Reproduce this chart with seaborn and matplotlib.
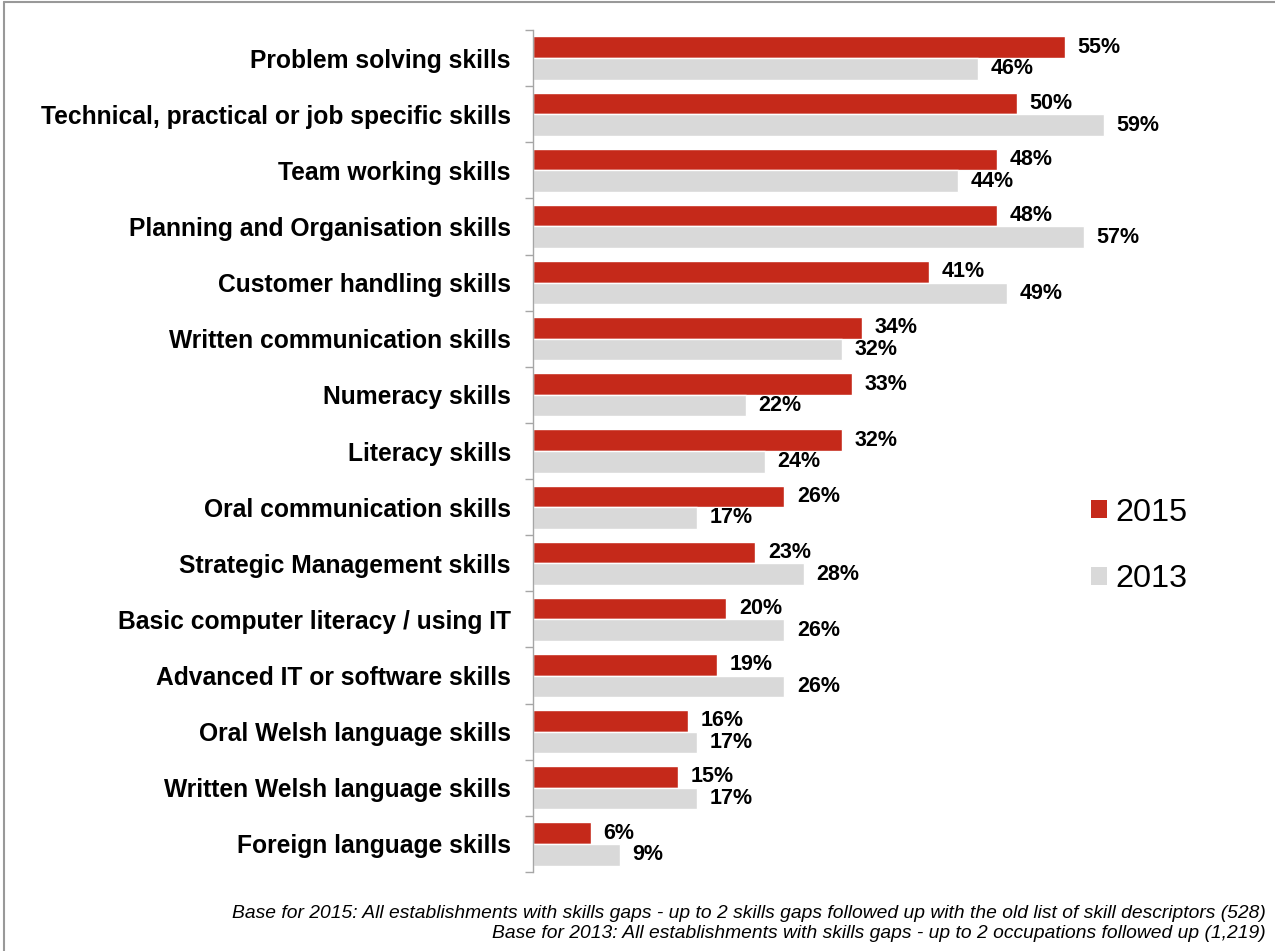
import matplotlib
matplotlib.use("Agg")
import matplotlib.pyplot as plt
from matplotlib.lines import Line2D
from matplotlib.patches import Patch
import seaborn as sns
import pandas as pd

skills = [
    "Problem solving skills",
    "Technical, practical or job specific skills",
    "Team working skills",
    "Planning and Organisation skills",
    "Customer handling skills",
    "Written communication skills",
    "Numeracy skills",
    "Literacy skills",
    "Oral communication skills",
    "Strategic Management skills",
    "Basic computer literacy / using IT",
    "Advanced IT or software skills",
    "Oral Welsh language skills",
    "Written Welsh language skills",
    "Foreign language skills",
]
values_2015 = [55, 50, 48, 48, 41, 34, 33, 32, 26, 23, 20, 19, 16, 15, 6]
values_2013 = [46, 59, 44, 57, 49, 32, 22, 24, 17, 28, 26, 26, 17, 17, 9]
years = ["2015", "2013"]
colors = {"2015": "#C5291A", "2013": "#D9D9D9"}

footnotes = [
    "Base for 2015: All establishments with skills gaps - up to 2 skills gaps followed up with the old list of skill descriptors (528)",
    "Base for 2013: All establishments with skills gaps - up to 2 occupations followed up (1,219)",
]

df = pd.DataFrame({
    "Skill": skills * 2,
    "Year": ["2015"] * len(skills) + ["2013"] * len(skills),
    "Value": values_2015 + values_2013,
})

sns.set_theme(style="white")
plt.rcParams["font.family"] = ["Liberation Sans", "DejaVu Sans"]
plt.rcParams["text.color"] = "black"
plt.rcParams["ytick.color"] = "black"

fig = plt.figure(figsize=(12.75, 9.51), dpi=100)
ax = fig.add_axes([533 / 1275, 1 - 872 / 951, (1253 - 533) / 1275, (872 - 30) / 951])

sns.barplot(data=df, y="Skill", x="Value", hue="Year", hue_order=years,
            order=skills, palette=colors, orient="h", width=0.77,
            saturation=1, ax=ax, legend=False)

ax.set_xlim(0, (1253 - 533) / 9.67)
ax.set_ylim(len(skills) - 0.5, -0.5)
ax.set_xlabel("")
ax.set_ylabel("")
ax.set_xticks([])

for side in ["top", "right", "bottom"]:
    ax.spines[side].set_visible(False)
ax.spines["left"].set_color("#A6A6A6")
ax.spines["left"].set_linewidth(1.0)

ax.tick_params(axis="y", which="major", left=False, length=0, pad=16,
               labelsize=17.7, labelcolor="black")
for lbl in ax.get_yticklabels():
    lbl.set_fontweight("bold")
ax.set_yticks([i - 0.5 for i in range(len(skills) + 1)], minor=True)
ax.tick_params(axis="y", which="minor", left=True, length=6, width=1.0,
               color="#A6A6A6", direction="out")

for container, year in zip(ax.containers, years):
    ax.bar_label(container, labels=[f"{v:.0f}%" for v in container.datavalues],
                 padding=9, fontsize=15.5, fontweight="bold", color="black")

handles = [Patch(facecolor=colors[y], edgecolor="none") for y in years]
fig.legend(handles, years, loc="center left", bbox_to_anchor=(1091 / 1275, 1 - 546 / 951),
           frameon=False, fontsize=23.3, handlelength=0.5, handleheight=0.5,
           handletextpad=0.25, labelspacing=1.13, borderpad=0, borderaxespad=0)

for i, txt in enumerate(footnotes):
    fig.text(1266 / 1275, 1 - (914 + 19 * i) / 951, txt, ha="right", va="center",
             fontsize=13.9, style="italic", color="black")

fig.add_artist(Line2D([4 / 1275, 4 / 1275], [0, 1 - 1.5 / 951], color="#999999", lw=1.5,
                      transform=fig.transFigure))
fig.add_artist(Line2D([4 / 1275, 1], [1 - 1.5 / 951, 1 - 1.5 / 951], color="#999999", lw=1.5,
                      transform=fig.transFigure))

fig.savefig("out.png", dpi=100)
